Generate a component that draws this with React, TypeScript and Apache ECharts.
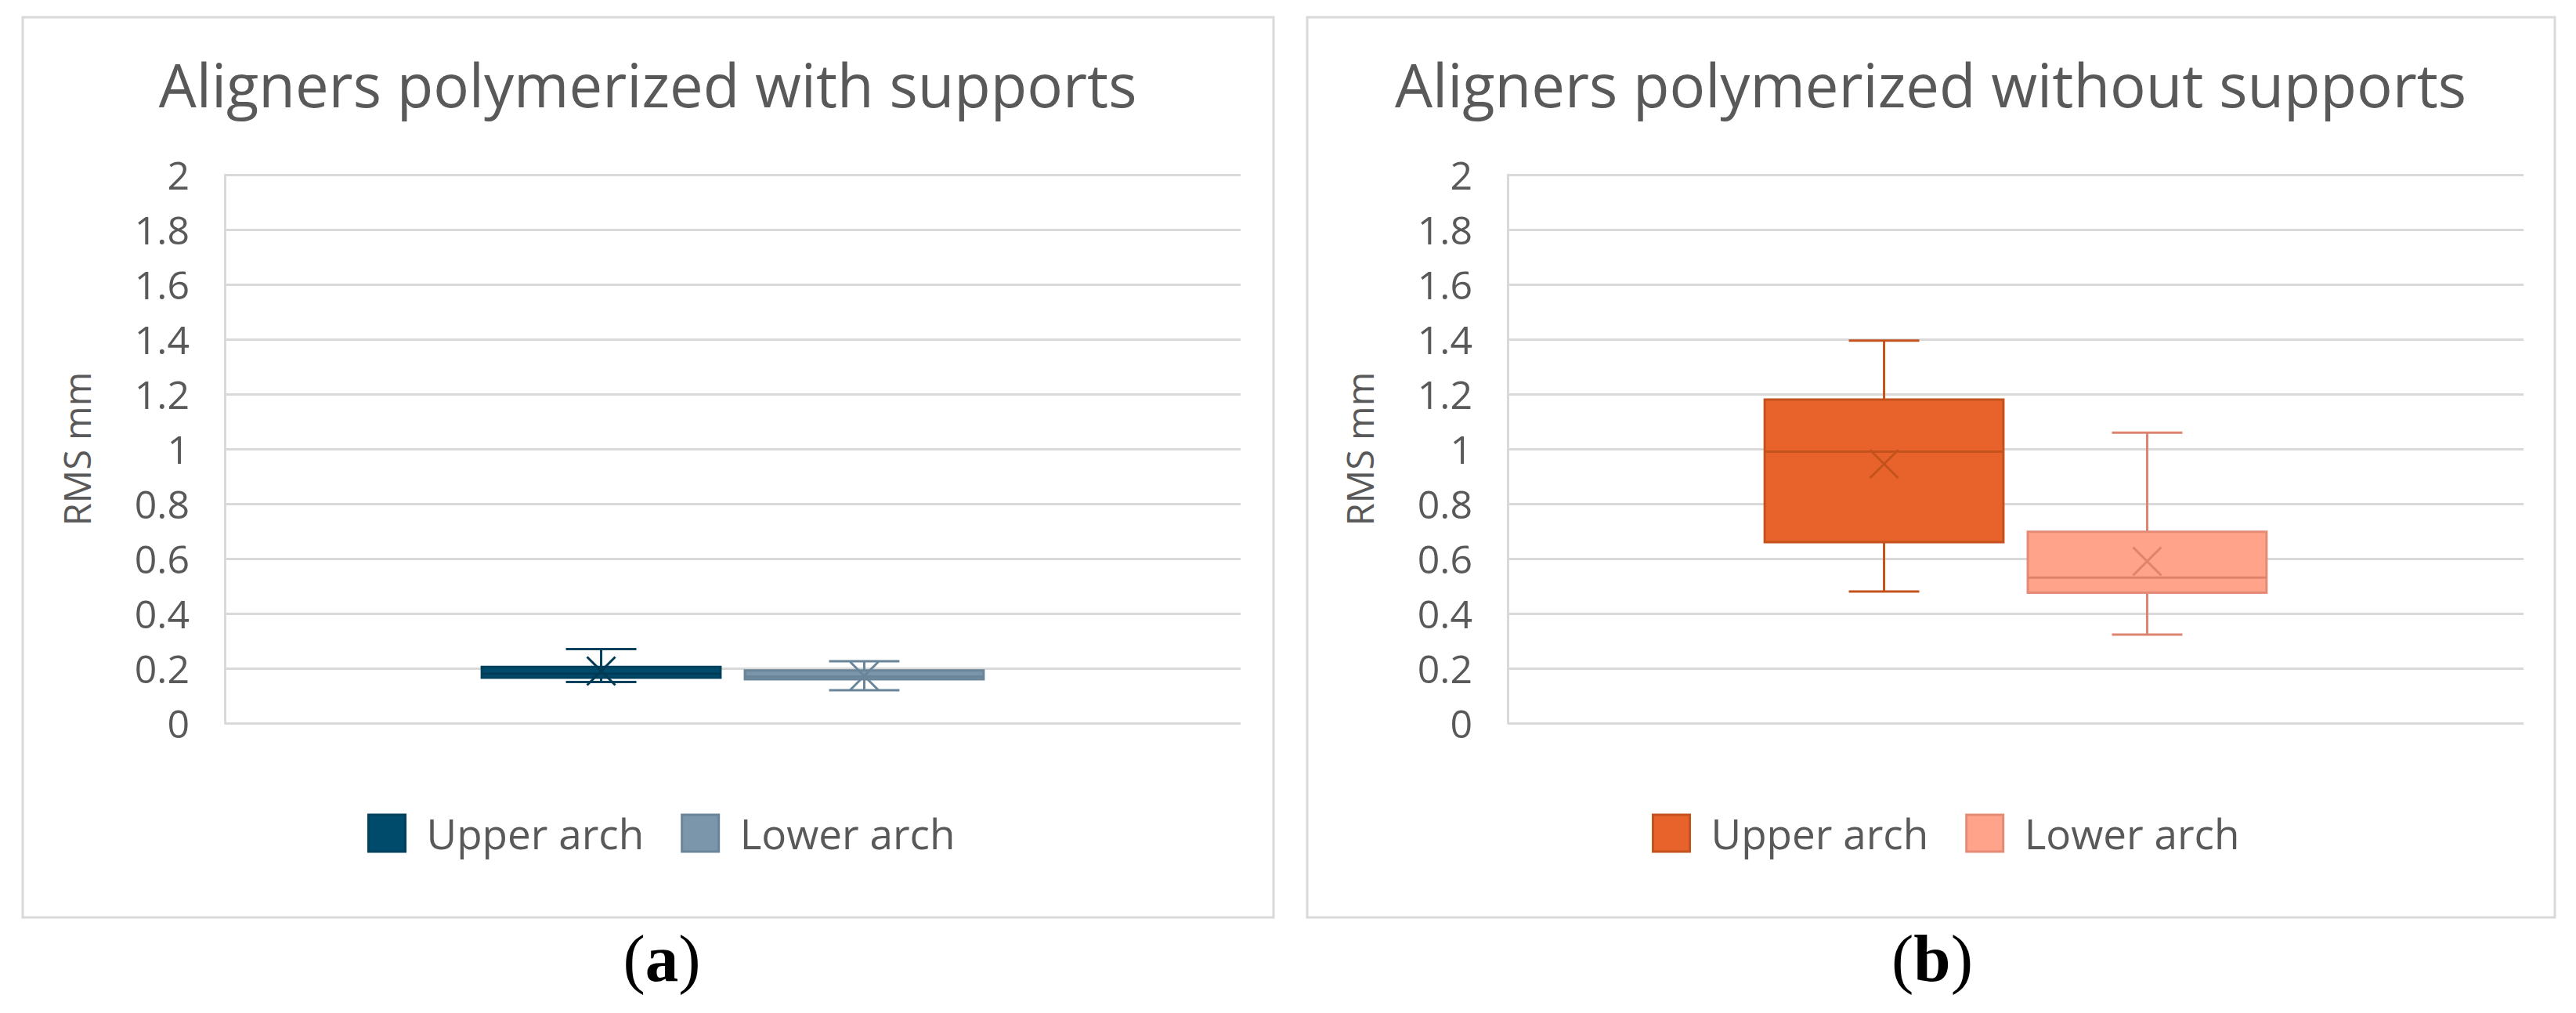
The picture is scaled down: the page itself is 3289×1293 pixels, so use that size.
import React, { useEffect, useRef } from 'react';
import * as echarts from 'echarts';

// ---------------- data ----------------
const categories = ['RMS'];
const seriesNames = ['Upper arch', 'Lower arch'];
const titles = ['Aligners polymerized with supports', 'Aligners polymerized without supports'];
const panelLetters = ['a', 'b'];
const yAxisName = 'RMS mm';
const yMin = 0;
const yMax = 2;
const yInterval = 0.2;
// each: [min, Q1, median, Q3, max, mean]
const withSupportsUpper = [0.15, 0.166, 0.18, 0.205, 0.27, 0.19];
const withSupportsLower = [0.12, 0.16, 0.17, 0.192, 0.226, 0.172];
const withoutSupportsUpper = [0.48, 0.66, 0.99, 1.18, 1.395, 0.945];
const withoutSupportsLower = [0.323, 0.476, 0.531, 0.698, 1.059, 0.59];
const panelData = [
  [withSupportsUpper, withSupportsLower],
  [withoutSupportsUpper, withoutSupportsLower],
];

// ---------------- styles ----------------
const textColor = '#595959';
const gridColor = '#d9d9d9';
const sans = 'Open Sans';
const palettes = [
  [
    { fill: '#004b6b', stroke: '#00415e', whisker: '#00415e', median: '#003a55' },
    { fill: '#7b96aa', stroke: '#6a8599', whisker: '#6a8599', median: '#6a8599' },
  ],
  [
    { fill: '#e8632b', stroke: '#c4521d', whisker: '#c4521d', median: '#c4521d' },
    { fill: '#ffa38a', stroke: '#e58b75', whisker: '#dc8470', median: '#e0836d' },
  ],
];
const layouts = [
  { divLeft: 0, divWidth: 1648, border: { x: 29, y: 22, w: 1597, h: 1149 }, grid: { left: 287, top: 223, width: 1297, height: 700 }, titleX: 827, legendLeft: 469, letterX: 845 },
  { divLeft: 1648, divWidth: 1641, border: { x: 21, y: 22, w: 1593, h: 1149 }, grid: { left: 277, top: 223, width: 1297, height: 700 }, titleX: 817, legendLeft: 461, letterX: 819 },
];

function boxRenderer(idx: number, count: number, c: any) {
  return (params: any, api: any) => {
    const cat = api.value(0);
    const mn = api.value(1);
    const q1 = api.value(2);
    const md = api.value(3);
    const q3 = api.value(4);
    const mx = api.value(5);
    const mean = api.value(6);
    const band = api.size([1, 0])[0];
    const boxW = band * 0.235;
    const gap = band * 0.024;
    const cx = api.coord([cat, 0])[0] + (idx - (count - 1) / 2) * (boxW + gap);
    const Y = (v: number) => api.coord([cat, v])[1];
    const capW = boxW * 0.295;
    const lw = 3;
    const ln = (x1: number, y1: number, x2: number, y2: number, stroke: string) => ({
      type: 'line',
      shape: { x1, y1, x2, y2 },
      style: { stroke, lineWidth: lw, fill: null },
    });
    const yMn = Y(mn), yQ1 = Y(q1), yMd = Y(md), yQ3 = Y(q3), yMx = Y(mx), yMean = Y(mean);
    const s = 18;
    return {
      type: 'group',
      children: [
        ln(cx, yMx, cx, yQ3, c.whisker),
        ln(cx, yQ1, cx, yMn, c.whisker),
        ln(cx - capW / 2, yMx, cx + capW / 2, yMx, c.whisker),
        ln(cx - capW / 2, yMn, cx + capW / 2, yMn, c.whisker),
        {
          type: 'rect',
          shape: { x: cx - boxW / 2, y: yQ3, width: boxW, height: yQ1 - yQ3 },
          style: { fill: c.fill, stroke: c.stroke, lineWidth: lw },
        },
        ln(cx - boxW / 2, yMd, cx + boxW / 2, yMd, c.median),
        ln(cx - s, yMean - s, cx + s, yMean + s, c.median),
        ln(cx - s, yMean + s, cx + s, yMean - s, c.median),
      ],
    };
  };
}

function buildOption(p: number): any {
  const L = layouts[p];
  const pal = palettes[p];
  const data = panelData[p];
  return {
    animation: false,
    backgroundColor: '#ffffff',
    grid: { left: L.grid.left, top: L.grid.top, width: L.grid.width, height: L.grid.height, containLabel: false, outerBoundsMode: 'none' },
    xAxis: {
      type: 'category',
      data: categories,
      axisLine: { show: false },
      axisTick: { show: false },
      axisLabel: { show: false },
      splitLine: { show: false },
    },
    yAxis: {
      type: 'value',
      min: yMin,
      max: yMax,
      interval: yInterval,
      axisLine: { show: true, lineStyle: { color: gridColor, width: 3 } },
      axisTick: { show: false },
      splitLine: { show: true, lineStyle: { color: gridColor, width: 3 } },
      axisLabel: { color: textColor, fontSize: 50, fontFamily: sans, margin: 45 },
      name: yAxisName,
      nameLocation: 'middle',
      nameGap: 166,
      nameTextStyle: { color: textColor, fontSize: 47, fontFamily: sans },
    },
    legend: {
      left: L.legendLeft,
      top: 1037,
      padding: 0,
      itemWidth: 47,
      itemHeight: 47,
      itemGap: 47,
      icon: 'rect',
      selectedMode: false,
      data: seriesNames.map((n, i) => ({
        name: n,
        itemStyle: { color: pal[i].fill, borderColor: pal[i].stroke, borderWidth: 3 },
      })),
      textStyle: { color: textColor, fontSize: 53, fontFamily: sans, padding: [0, 0, 0, 22], lineHeight: 47 },
    },
    graphic: [
      {
        type: 'rect',
        silent: true,
        z: -1,
        shape: { x: L.border.x, y: L.border.y, width: L.border.w, height: L.border.h },
        style: { fill: 'none', stroke: gridColor, lineWidth: 3 },
      },
      {
        type: 'text',
        x: L.titleX,
        y: 107,
        style: {
          text: titles[p],
          align: 'center',
          verticalAlign: 'middle',
          fill: textColor,
          fontSize: 76,
          fontFamily: sans,
          fontWeight: 'normal',
        },
      },
      {
        type: 'text',
        x: L.letterX,
        y: 1223,
        style: {
          text: '{p|(}{b|' + panelLetters[p] + '}{p|)}',
          align: 'center',
          verticalAlign: 'middle',
          fill: '#000',
          fontSize: 85,
          fontFamily: 'Liberation Serif',
          rich: {
            p: { fontFamily: 'Liberation Serif', fontSize: 85, fill: '#000', fontWeight: 'normal' },
            b: { fontFamily: 'Liberation Serif', fontSize: 85, fill: '#000', fontWeight: 'bold' },
          },
        },
      },
    ],
    series: data.map((vals, i) => ({
      type: 'custom',
      name: seriesNames[i],
      itemStyle: { color: pal[i].fill, borderColor: pal[i].stroke },
      encode: { x: 0, y: [1, 2, 3, 4, 5, 6] },
      data: [[0, ...vals]],
      renderItem: boxRenderer(i, data.length, pal[i]),
    })),
  };
}

export default function App() {
  const refA = useRef<HTMLDivElement>(null);
  const refB = useRef<HTMLDivElement>(null);
  useEffect(() => {
    const charts = [refA, refB].map((r, i) => {
      const c = echarts.init(r.current as HTMLDivElement, undefined, { renderer: 'svg' });
      c.setOption(buildOption(i));
      return c;
    });
    return () => charts.forEach((c) => c.dispose());
  }, []);
  return (
    <div style={{ position: 'fixed', left: 0, top: 0, width: 3289, height: 1293, background: '#ffffff' }}>
      <div ref={refA} style={{ position: 'absolute', left: layouts[0].divLeft, top: 0, width: layouts[0].divWidth, height: 1293 }} />
      <div ref={refB} style={{ position: 'absolute', left: layouts[1].divLeft, top: 0, width: layouts[1].divWidth, height: 1293 }} />
    </div>
  );
}
